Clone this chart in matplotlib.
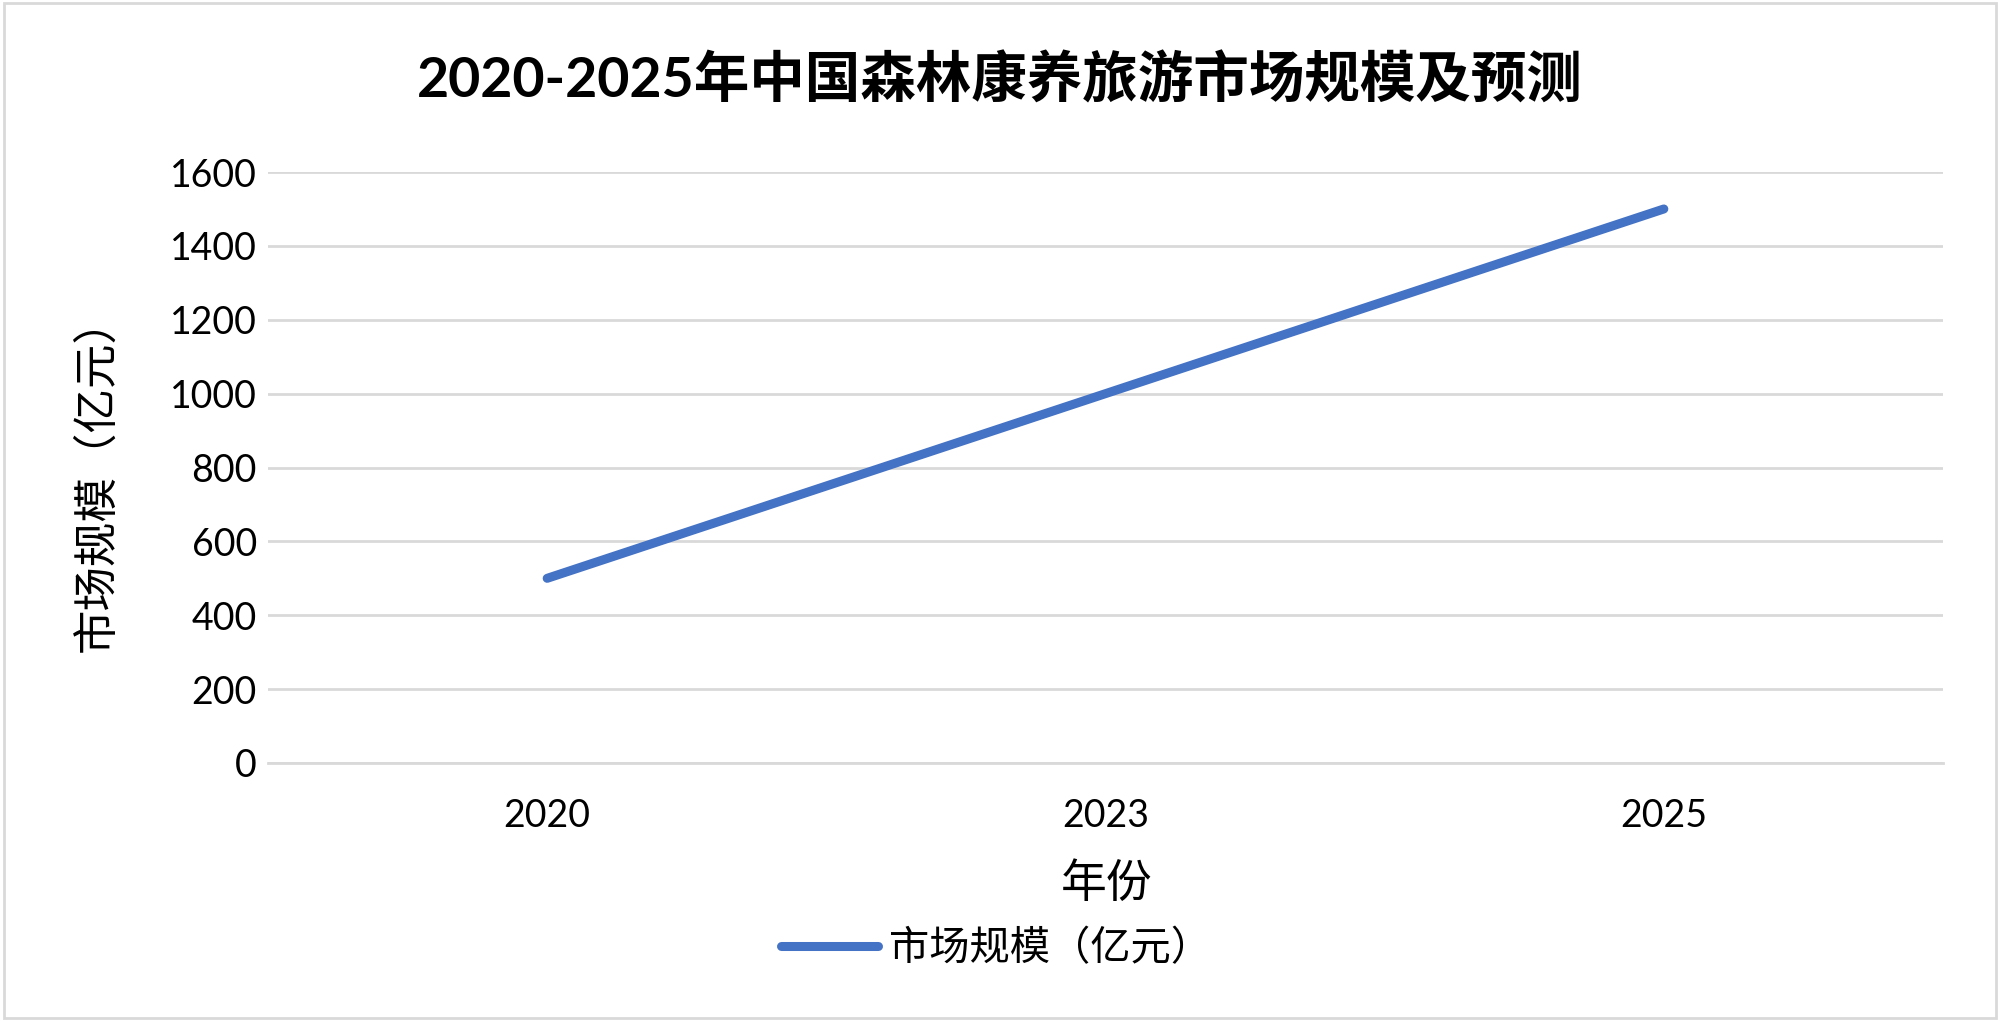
import matplotlib
matplotlib.use("Agg")
import matplotlib.pyplot as plt
from matplotlib.patches import Rectangle

plt.rcParams['font.family'] = ['Lato', 'Noto Sans CJK SC', 'DejaVu Sans']

years = ['2020', '2023', '2025']
market_size = [500, 1000, 1500]
y_ticks = [0, 200, 400, 600, 800, 1000, 1200, 1400, 1600]
title = '2020-2025年中国森林康养旅游市场规模及预测'
x_label = '年份'
y_label = '市场规模（亿元）'
series_name = '市场规模（亿元）'

fig = plt.figure(figsize=(20, 10.21), dpi=100)
fig.patches.append(Rectangle((0.002, 0.003), 0.996, 0.994, transform=fig.transFigure,
                             fill=False, edgecolor='#D9D9D9', linewidth=2))

ax = fig.add_axes([0.134, 0.2527, 0.8375, 0.5788])
x = list(range(len(years)))
ax.plot(x, market_size, color='#4472C4', linewidth=6.5, solid_capstyle='round',
        label=series_name)
ax.set_xlim(-0.5, len(years) - 0.5)
ax.set_ylim(0, 1600)
ax.set_yticks(y_ticks)
ax.set_yticklabels([str(v) for v in y_ticks])
ax.set_xticks(x)
ax.set_xticklabels(years)
ax.grid(axis='y', color='#D9D9D9', linewidth=2)
ax.set_axisbelow(True)
for s in ['top', 'right', 'left']:
    ax.spines[s].set_visible(False)
ax.spines['bottom'].set_color('#D9D9D9')
ax.spines['bottom'].set_linewidth(2)
ax.tick_params(axis='both', length=0, labelsize=27, colors='#000000')
ax.tick_params(axis='y', pad=8)
ax.tick_params(axis='x', pad=25)

fig.text(0.5, 0.922, title, ha='center', va='center', fontsize=40, fontweight='bold',
         family=['Lato', 'Noto Sans CJK SC'])
fig.text(0.5535, 0.134, x_label, ha='center', va='center', fontsize=33,
         family=['Noto Sans CJK SC'])
fig.text(0.048, 0.536, y_label, ha='center', va='center', fontsize=32, rotation=90,
         family=['Noto Sans CJK SC'])

leg = fig.legend(loc='center', bbox_to_anchor=(0.498, 0.071), frameon=False,
                 prop={'family': 'Noto Sans CJK SC', 'size': 29},
                 handlelength=2.4, handletextpad=0.28)

fig.savefig('out.png', dpi=100)
